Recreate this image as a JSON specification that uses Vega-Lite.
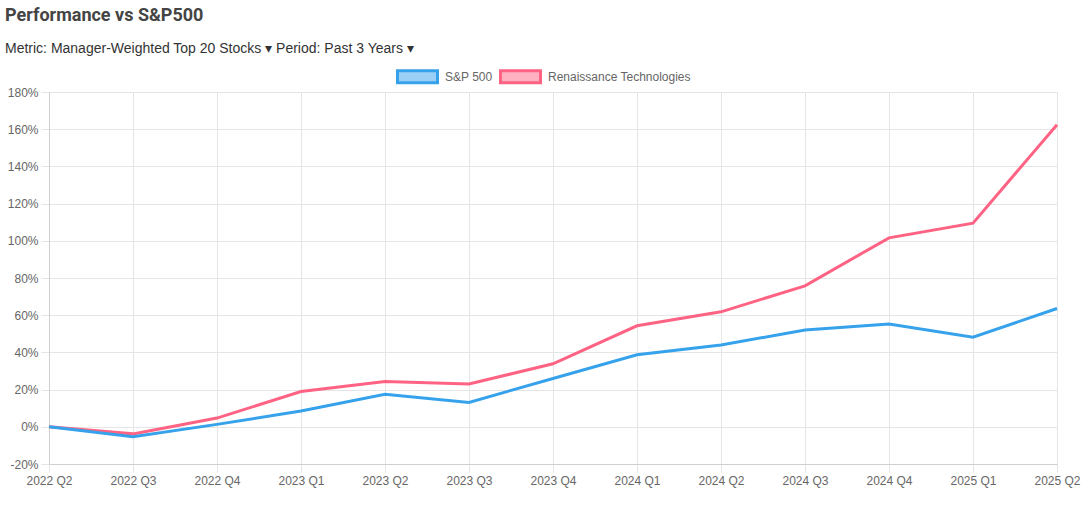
{
  "$schema": "https://vega.github.io/schema/vega-lite/v6.json",
  "width": 1008,
  "height": 372,
  "autosize": {"type": "none"},
  "padding": {"left": 49, "top": 92, "right": 35, "bottom": 47},
  "background": "white",
  "title": {
    "text": "Performance vs S&P500",
    "subtitle": "Metric: Manager-Weighted Top 20 Stocks ▾  Period: Past 3 Years ▾",
    "anchor": "start",
    "frame": "group",
    "dx": -44,
    "dy": 13,
    "offset": 12,
    "font": "Roboto",
    "fontSize": 18,
    "fontWeight": "bold",
    "color": "#444444",
    "subtitleFont": "Liberation Sans",
    "subtitleFontSize": 14,
    "subtitleColor": "#333333",
    "subtitlePadding": 17
  },
  "data": {
    "values": [
      {"q": "2022 Q2", "series": "Renaissance Technologies", "v": 0},
      {"q": "2022 Q3", "series": "Renaissance Technologies", "v": -3.8},
      {"q": "2022 Q4", "series": "Renaissance Technologies", "v": 4.7},
      {"q": "2023 Q1", "series": "Renaissance Technologies", "v": 19},
      {"q": "2023 Q2", "series": "Renaissance Technologies", "v": 24.4},
      {"q": "2023 Q3", "series": "Renaissance Technologies", "v": 23},
      {"q": "2023 Q4", "series": "Renaissance Technologies", "v": 33.9},
      {"q": "2024 Q1", "series": "Renaissance Technologies", "v": 54.3},
      {"q": "2024 Q2", "series": "Renaissance Technologies", "v": 61.8},
      {"q": "2024 Q3", "series": "Renaissance Technologies", "v": 75.8},
      {"q": "2024 Q4", "series": "Renaissance Technologies", "v": 101.6},
      {"q": "2025 Q1", "series": "Renaissance Technologies", "v": 109.5},
      {"q": "2025 Q2", "series": "Renaissance Technologies", "v": 162.4},
      {"q": "2022 Q2", "series": "S&P 500", "v": 0},
      {"q": "2022 Q3", "series": "S&P 500", "v": -5.3},
      {"q": "2022 Q4", "series": "S&P 500", "v": 1.3},
      {"q": "2023 Q1", "series": "S&P 500", "v": 8.5},
      {"q": "2023 Q2", "series": "S&P 500", "v": 17.5},
      {"q": "2023 Q3", "series": "S&P 500", "v": 13.1},
      {"q": "2023 Q4", "series": "S&P 500", "v": 26},
      {"q": "2024 Q1", "series": "S&P 500", "v": 38.7},
      {"q": "2024 Q2", "series": "S&P 500", "v": 44},
      {"q": "2024 Q3", "series": "S&P 500", "v": 52},
      {"q": "2024 Q4", "series": "S&P 500", "v": 55.2},
      {"q": "2025 Q1", "series": "S&P 500", "v": 48.2},
      {"q": "2025 Q2", "series": "S&P 500", "v": 63.6}
    ]
  },
  "mark": {"type": "line", "strokeWidth": 3, "interpolate": "linear"},
  "encoding": {
    "x": {
      "field": "q",
      "type": "ordinal",
      "sort": null,
      "scale": {"type": "point", "padding": 0},
      "axis": {
        "title": null,
        "labelAngle": 0,
        "grid": true,
        "tickSize": 8,
        "labelPadding": 3,
        "labelFont": "Liberation Sans",
        "labelFontSize": 12,
        "labelColor": "#666666",
        "gridColor": "#e5e5e5",
        "tickColor": "#e5e5e5",
        "domainColor": "#cfcfcf"
      }
    },
    "y": {
      "field": "v",
      "type": "quantitative",
      "scale": {"domain": [-20, 180], "nice": false, "zero": false},
      "axis": {
        "title": null,
        "values": [-20, 0, 20, 40, 60, 80, 100, 120, 140, 160, 180],
        "labelExpr": "datum.value + '%'",
        "grid": true,
        "tickSize": 8,
        "labelPadding": 3,
        "labelFont": "Liberation Sans",
        "labelFontSize": 12,
        "labelColor": "#666666",
        "gridColor": "#e5e5e5",
        "tickColor": "#e5e5e5",
        "domainColor": "#cfcfcf"
      }
    },
    "color": {
      "field": "series",
      "type": "nominal",
      "scale": {"domain": ["S&P 500", "Renaissance Technologies"], "range": ["#36A2EB", "#FF6384"]},
      "legend": {
        "orient": "none",
        "legendX": 347,
        "legendY": -37,
        "direction": "horizontal",
        "title": null,
        "padding": 0,
        "symbolType": "M-1,-0.3H1V0.3H-1Z",
        "symbolSize": 1600,
        "symbolStrokeWidth": 3,
        "labelFont": "Liberation Sans",
        "labelFontSize": 12,
        "labelColor": "#666666",
        "labelOffset": 6,
        "columnPadding": 1,
        "encode": {
          "symbols": {
            "update": {
              "fill": {"scale": "color", "field": "value"},
              "fillOpacity": {"value": 0.5},
              "stroke": {"scale": "color", "field": "value"},
              "strokeWidth": {"value": 3}
            }
          }
        }
      }
    }
  },
  "config": {"view": {"stroke": null}}
}
